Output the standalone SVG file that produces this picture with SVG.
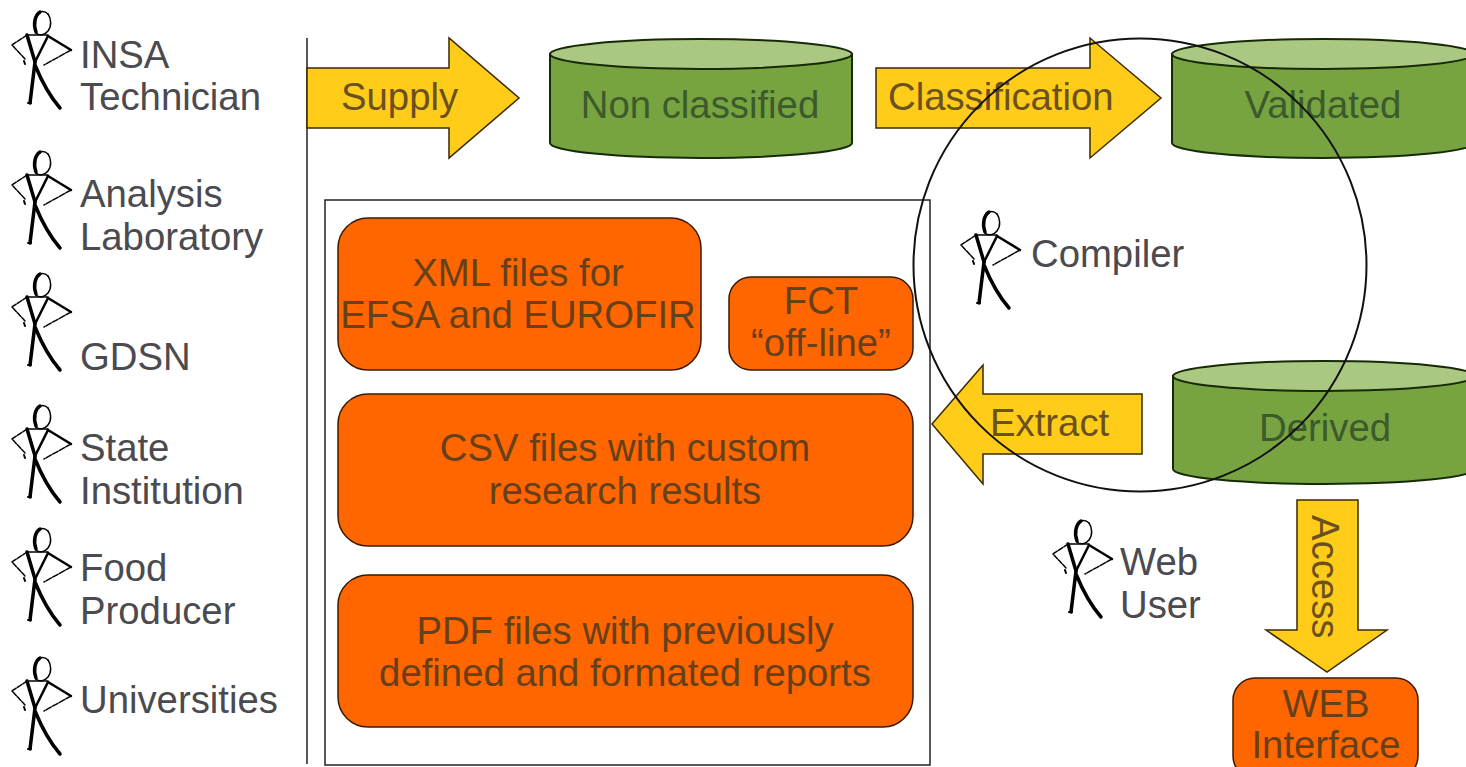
<svg xmlns="http://www.w3.org/2000/svg" width="1466" height="767" viewBox="0 0 1466 767">
<style>
text{font-family:"Liberation Sans",Arial,sans-serif;font-size:38.300px}
.l{fill:#4a4a4f}
.c{text-anchor:middle}
.o{fill:#ff6600;stroke:#3a1a00;stroke-width:1.500}
.ot{fill:#66401a}
.a{fill:#ffcc1a;stroke:#3a2a00;stroke-width:1.500}
.at{fill:#6b5020}
.cy{fill:#77a340;stroke:#152a05;stroke-width:2}
.cyt{fill:#abc882;stroke:#152a05;stroke-width:2}
.gt{fill:#3c5a2c}
.ln{fill:none;stroke:#222;stroke-width:1.500}
.s{fill:none;stroke:#000;stroke-linecap:round;stroke-linejoin:round}
</style>
<defs>
<g id="fig">
<path class="s" stroke-width="1.500" d="M48 14C51 18 52 26 48 31C45 35 39 36 36 33"/>
<path class="s" stroke-width="3.500" d="M40 12C35 15 33 24 36 32"/>
<path class="s" stroke-width="1.500" d="M40 12C43 11 46 12 48 14"/>
<path class="s" stroke-width="1.500" d="M27 35H48"/>
<path class="s" stroke-width="3.500" d="M27 35L35 62"/>
<path class="s" stroke-width="2.500" d="M48 36L36 60"/>
<path class="s" stroke-width="1.500" stroke-dasharray="5 1.500" d="M27 35L12 45L25 59"/>
<path class="s" stroke-width="2" d="M24 61L25 64"/>
<path class="s" stroke-width="2.500" d="M48 36L71 50"/>
<path class="s" stroke-width="1.500" stroke-dasharray="6 1.500" d="M71 50L44 65"/>
<path class="s" stroke-width="3.500" d="M35 62L30 103M35 65Q46 92 60 108"/>
<path class="s" stroke-width="2" d="M28 103H31"/>
</g>
</defs>
<g id="people">
<g id="p-insa"><use href="#fig"/><text class="l" x="80" y="68">INSA</text><text class="l" x="80" y="110">Technician</text></g>
<g id="p-lab"><use href="#fig" y="140"/><text class="l" x="80" y="207">Analysis</text><text class="l" x="80" y="250">Laboratory</text></g>
<g id="p-gdsn"><use href="#fig" y="262"/><text class="l" x="80" y="370">GDSN</text></g>
<g id="p-state"><use href="#fig" y="394"/><text class="l" x="80" y="461">State</text><text class="l" x="80" y="504">Institution</text></g>
<g id="p-food"><use href="#fig" y="517"/><text class="l" x="80" y="581">Food</text><text class="l" x="80" y="624">Producer</text></g>
<g id="p-uni"><use href="#fig" y="646"/><text class="l" x="80" y="713">Universities</text></g>
<g id="p-compiler"><use href="#fig" x="949" y="200"/><text class="l" x="1031" y="267">Compiler</text></g>
<g id="p-web"><use href="#fig" x="1041" y="509"/><text class="l" x="1120" y="575">Web</text><text class="l" x="1120" y="618">User</text></g>
</g>
<g id="frame"><path class="ln" d="M307 38V764"/><rect class="ln" x="325" y="200" width="605" height="565"/></g>
<g id="connectors">
<g id="a-supply"><path class="a" d="M307 68H449V38L519 98L449 158V128H307Z"/><text class="at" x="341" y="110">Supply</text></g>
<g id="a-class"><path class="a" d="M876 68H1090V38L1161 98L1090 158V128H876Z"/><text class="at" x="888" y="110">Classification</text></g>
<g id="a-extract"><path class="a" d="M1142 394H983V365L932 424L983 484V454H1142Z"/><text class="at" x="990" y="436">Extract</text></g>
<g id="a-access"><path class="a" d="M1297 500H1358V630H1387L1327 672L1266 630H1297Z"/><text class="at" transform="translate(1312 515) rotate(90)">Access</text></g>
</g>
<g id="n-nonclass"><path class="cy" d="M550 54V143A151 15 0 0 0 852 143V54Z"/><ellipse class="cyt" cx="701" cy="54" rx="151" ry="15"/><text class="gt c" x="700" y="118">Non classified</text></g>
<g id="n-validated"><path class="cy" d="M1172 54V143A151 15 0 0 0 1474 143V54Z"/><ellipse class="cyt" cx="1323" cy="54" rx="151" ry="15"/><text class="gt c" x="1323" y="118">Validated</text></g>
<g id="n-derived"><path class="cy" d="M1173 376V469A151 15 0 0 0 1475 469V376Z"/><ellipse class="cyt" cx="1324" cy="376" rx="151" ry="15"/><text class="gt c" x="1325" y="441">Derived</text></g>
<g id="n-xml"><rect class="o" x="338" y="218" width="363" height="152" rx="30"/><text class="ot c" x="518" y="286">XML files for</text><text class="ot c" x="518" y="328">EFSA and EUROFIR</text></g>
<g id="n-fct"><rect class="o" x="729" y="277" width="184" height="93" rx="22"/><text class="ot c" x="821" y="314">FCT</text><text class="ot c" x="821" y="356">“off-line”</text></g>
<g id="n-csv"><rect class="o" x="338" y="394" width="575" height="152" rx="30"/><text class="ot c" x="625" y="461">CSV files with custom</text><text class="ot c" x="625" y="504">research results</text></g>
<g id="n-pdf"><rect class="o" x="338" y="575" width="575" height="152" rx="30"/><text class="ot c" x="625" y="644">PDF files with previously</text><text class="ot c" x="625" y="686">defined and formated reports</text></g>
<g id="n-web"><rect class="o" x="1233" y="678" width="185" height="100" rx="22"/><text class="ot c" x="1326" y="717">WEB</text><text class="ot c" x="1326" y="758">Interface</text></g>
<circle id="compiler-circle" cx="1140" cy="265" r="226.500" fill="none" stroke="#111" stroke-width="2"/>
</svg>
